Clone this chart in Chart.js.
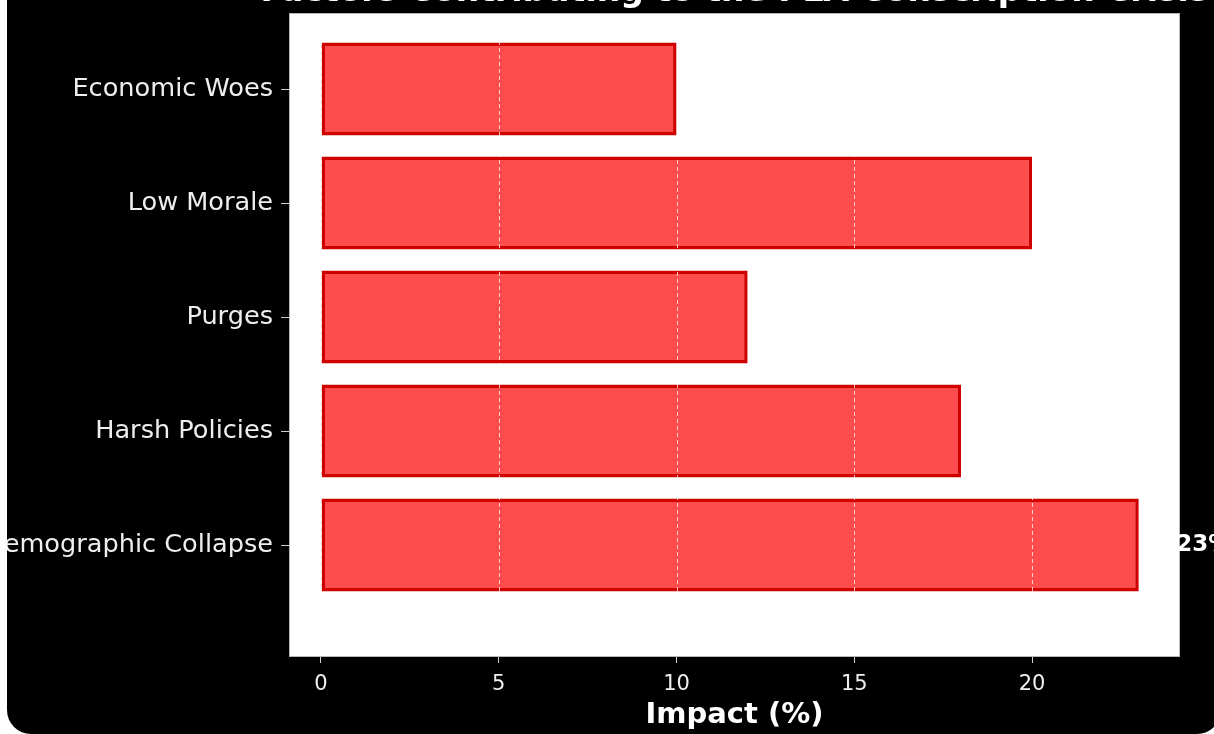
<!DOCTYPE html>
<html>
<head>
<meta charset="utf-8">
<script src="https://cdn.jsdelivr.net/npm/chart.js@4/dist/chart.umd.min.js"></script>
<style>
  html, body { margin: 0; padding: 0; background: #ffffff; overflow: hidden; }
  body { width: 1214px; height: 734px; position: relative; }
  #frame {
    position: absolute; left: 7px; top: -40px;
    width: 1214px; height: 774px;
    background: #000000; border-radius: 24px; overflow: hidden;
  }
  #chart { display: block; }
</style>
</head>
<body>
<div id="frame"><canvas id="chart"></canvas></div>
<script>
// Factors and their share of the overall impact (%)
const categories = ['Economic Woes', 'Low Morale', 'Purges', 'Harsh Policies', 'Demographic Collapse'];
const impactValues = [10, 20, 12, 18, 23];
const xTickValues = [0, 5, 10, 15, 20];
const chartTitle = 'Factors Contributing to the PLA Conscription Crisis';

const FONT = "'DejaVu Sans', 'Liberation Sans', sans-serif";

// White plot face, dashed white grid above the bars, frame, value labels, title
const overlayPlugin = {
  id: 'overlay',
  beforeDraw(chart) {
    const { ctx, chartArea: a } = chart;
    ctx.save();
    ctx.fillStyle = '#ffffff';
    ctx.fillRect(a.left, a.top, a.right - a.left, a.bottom - a.top);
    ctx.restore();
  },
  afterDatasetsDraw(chart) {
    const { ctx, chartArea: a, scales } = chart;
    ctx.save();
    ctx.strokeStyle = 'rgba(255,255,255,0.75)';
    ctx.lineWidth = 1;
    ctx.setLineDash([4, 3]);
    xTickValues.forEach(v => {
      const px = Math.round(scales.x.getPixelForValue(v)) + 0.5;
      ctx.beginPath();
      ctx.moveTo(px, a.top);
      ctx.lineTo(px, a.bottom);
      ctx.stroke();
    });
    ctx.setLineDash([]);
    ctx.strokeStyle = '#b8b8b8';
    ctx.lineWidth = 1;
    ctx.strokeRect(a.left + 0.5, a.top + 0.5, a.right - a.left - 1, a.bottom - a.top - 1);

    // value labels just past each bar end
    ctx.fillStyle = '#ffffff';
    ctx.font = 'bold 23px ' + FONT;
    ctx.textAlign = 'left';
    ctx.textBaseline = 'middle';
    impactValues.forEach((v, i) => {
      const px = scales.x.getPixelForValue(v + 1) + 2;
      const py = scales.y.getPixelForValue(i);
      ctx.fillText(v + '%', px, py);
    });

    // title centred over the plot
    ctx.font = 'bold 33px ' + FONT;
    ctx.textAlign = 'center';
    ctx.textBaseline = 'alphabetic';
    ctx.fillText(chartTitle, (a.left + a.right) / 2, a.top - 12);
    ctx.restore();
  }
};

new Chart(document.getElementById('chart'), {
  type: 'bar',
  data: {
    datasets: [{
      label: 'Impact (%)',
      data: impactValues.map((v, i) => ({ x: v, y: i })),
      backgroundColor: 'rgba(255,0,0,0.7)',
      borderColor: '#cf0000',
      borderWidth: 3.5,
      borderSkipped: false,
      barPercentage: 0.815,
      categoryPercentage: 1.0
    }]
  },
  options: {
    indexAxis: 'y',
    responsive: true,
    maintainAspectRatio: false,
    animation: false,
    layout: { padding: { left: 0, right: 41, top: 53, bottom: 0 } },
    plugins: {
      legend: { display: false },
      tooltip: { enabled: false },
      title: { display: false }
    },
    scales: {
      x: {
        type: 'linear',
        min: -0.9,
        max: 24.16,
        afterBuildTicks(scale) { scale.ticks = xTickValues.map(v => ({ value: v })); },
        afterFit(scale) { scale.height = 77; },
        grid: {
          display: true, drawOnChartArea: false, drawTicks: true,
          tickLength: 6, tickColor: '#cfcfcf', color: 'rgba(0,0,0,0)'
        },
        border: { display: false },
        ticks: {
          color: '#eeeeee', padding: 9,
          font: { family: FONT, size: 21 },
          callback: v => String(v)
        },
        title: {
          display: true, text: 'Impact (%)', color: '#ffffff',
          font: { family: FONT, size: 29, weight: 'bold' },
          padding: { top: 0, bottom: 1 }
        }
      },
      y: {
        type: 'linear',
        reverse: true,
        offset: false,
        min: -0.667,
        max: 4.982,
        afterBuildTicks(scale) { scale.ticks = categories.map((c, i) => ({ value: i })); },
        afterFit(scale) { scale.width = 282; },
        grid: {
          display: true, offset: false, drawOnChartArea: false, drawTicks: true,
          tickLength: 8, tickColor: '#cfcfcf', color: 'rgba(0,0,0,0)'
        },
        border: { display: false },
        ticks: {
          color: '#eeeeee', padding: 8,
          font: { family: FONT, size: 25.6 },
          callback: v => categories[v]
        }
      }
    }
  },
  plugins: [overlayPlugin]
});
</script>
</body>
</html>
